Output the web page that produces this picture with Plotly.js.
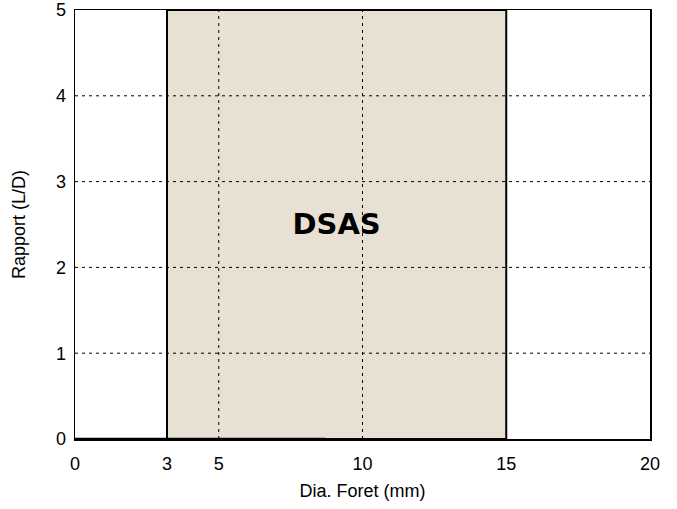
<!DOCTYPE html>
<html>
<head>
<meta charset="utf-8">
<script src="https://cdn.plot.ly/plotly-3.0.1.min.js"></script>
<style>html,body{margin:0;padding:0;background:#fff;}#chart{width:677px;height:509px;}</style>
</head>
<body>
<div id="chart"></div>
<script>
// Region (drill diameter range) and L/D range
const regionX = [3.2, 15];
const regionY = [0, 5];
const regionLabel = "DSAS";
const regionLabelPos = [9.1, 2.47];
// baseline segment along y=0
const baseX = [0, 8.7];
const baseY = [0, 0];
// ticks
const xTickVals = [0, 3.2, 5, 10, 15, 20];
const xTickText = ["0", "3", "5", "10", "15", "20"];
const yTickVals = [0, 1, 2, 3, 4, 5];
const gridX = [5, 10];
const gridY = [1, 2, 3, 4];

const shapes = [];
gridX.forEach(v => shapes.push({type:'line', xref:'x', yref:'paper', x0:v, x1:v, y0:0, y1:1, line:{color:'#000', width:1, dash:'3px,4px'}, layer:'above'}));
gridY.forEach(v => shapes.push({type:'line', xref:'paper', yref:'y', x0:0, x1:1, y0:v, y1:v, line:{color:'#000', width:1, dash:'3px,4px'}, layer:'above'}));

const traces = [
  {x:[regionX[0], regionX[1], regionX[1], regionX[0], regionX[0]],
   y:[regionY[0], regionY[0], regionY[1], regionY[1], regionY[0]],
   mode:'lines', fill:'toself', fillcolor:'#e8e1d3', line:{color:'#000', width:2}, hoverinfo:'skip', showlegend:false},
  {x:baseX, y:baseY, mode:'lines', line:{color:'#000', width:2.5}, showlegend:false, cliponaxis:false},
  {x:[regionLabelPos[0]], y:[regionLabelPos[1]], mode:'text', text:[regionLabel],
   textfont:{family:'DejaVu Sans', size:29, color:'#000', weight:'bold'}, showlegend:false}
];

const layout = {
  width:677, height:509,
  margin:{l:75, r:27, t:10, b:70},
  paper_bgcolor:'#fff', plot_bgcolor:'#fff',
  showlegend:false,
  font:{family:'Liberation Sans, Arial, sans-serif', color:'#000'},
  xaxis:{range:[0,20], tickvals:xTickVals, ticktext:xTickText, showgrid:false, zeroline:false,
         showline:true, mirror:true, linecolor:'#000', linewidth:1.5, ticks:'', tickfont:{size:18},
         ticklabelstandoff:8,
         title:{text:'Dia. Foret (mm)', font:{size:18}, standoff:11}},
  yaxis:{range:[0,5], tickvals:yTickVals, showgrid:false, zeroline:false,
         showline:true, mirror:true, linecolor:'#000', linewidth:1.5, ticks:'', tickfont:{size:18},
         ticklabelstandoff:4,
         title:{text:'Rapport (L/D)', font:{size:18}, standoff:25}},
  shapes:shapes
};
Plotly.newPlot('chart', traces, layout, {displayModeBar:false, staticPlot:true});
</script>
</body>
</html>
